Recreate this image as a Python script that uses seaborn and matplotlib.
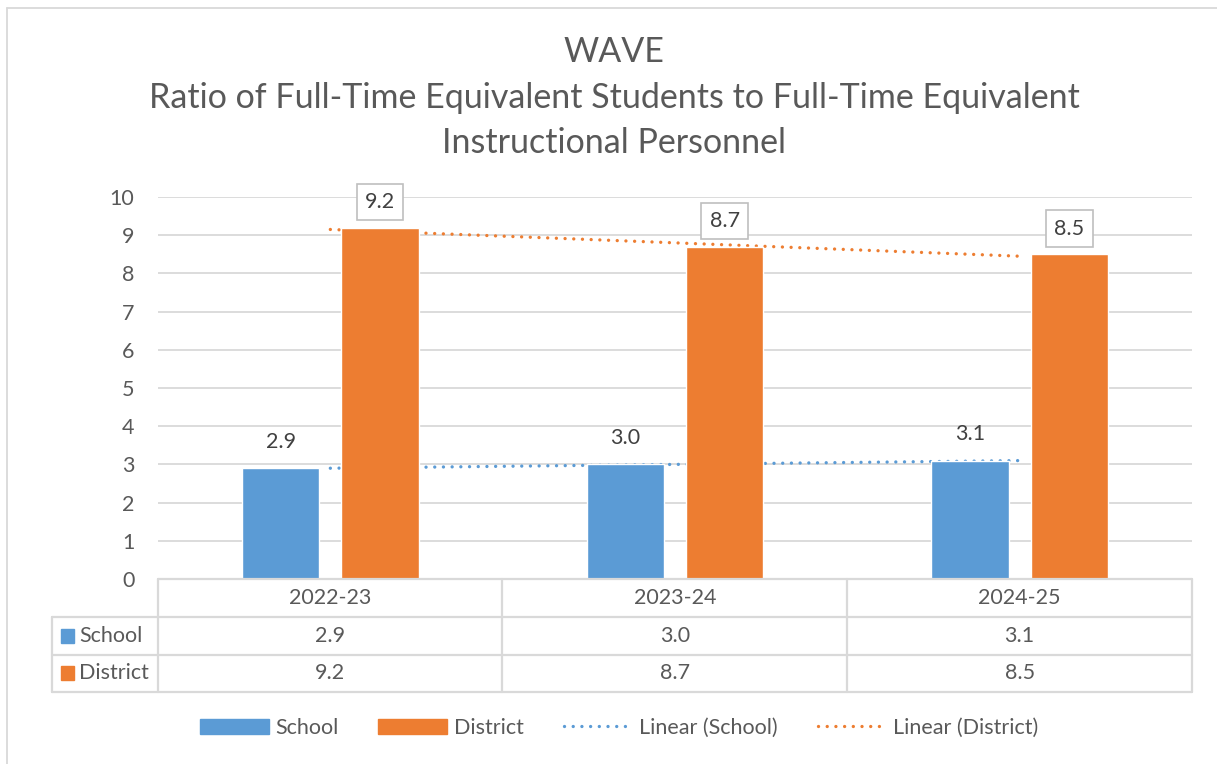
import numpy as np
import pandas as pd
import matplotlib
matplotlib.use("Agg")
import matplotlib.pyplot as plt
import seaborn as sns
from matplotlib.patches import Patch, Rectangle
from matplotlib.lines import Line2D
import matplotlib.transforms as mtransforms

# ---- data ----
years = ["2022-23", "2023-24", "2024-25"]
school = [2.9, 3.0, 3.1]
district = [9.2, 8.7, 8.5]
series_names = ["School", "District"]
title_lines = ["WAVE", "Ratio of Full-Time Equivalent Students to Full-Time Equivalent",
               "Instructional Personnel"]
yticks = list(range(0, 11))

BLUE = "#5B9BD5"
ORANGE = "#ED7D31"
TEXT = "#595959"
GRID = "#D9D9D9"
FS = 15.5

sns.set_theme(style="white")
plt.rcParams["font.family"] = ["Lato", "DejaVu Sans"]

W, H = 1217, 764
fig = plt.figure(figsize=(W / 100, H / 100), dpi=100)

def fx(px):
    return px / W

def fy(py):
    return 1 - py / H

ax_l, ax_r, ax_t, ax_b = 158, 1192, 197, 579
ax = fig.add_axes([fx(ax_l), fy(ax_b), fx(ax_r - ax_l), fy(ax_t) - fy(ax_b)])

df = pd.DataFrame({
    "year": years * 2,
    "series": ["School"] * 3 + ["District"] * 3,
    "value": school + district,
})

sns.barplot(data=df, x="year", y="value", hue="series", hue_order=series_names,
            palette=[BLUE, ORANGE], width=0.576, gap=0.22, ax=ax, legend=False,
            zorder=3, saturation=1)

ax.set_xlim(-0.5, 2.5)
ax.set_ylim(0, 10)
ax.set_yticks(yticks)
ax.set_yticklabels([str(t) for t in yticks], fontsize=FS, color=TEXT)
ax.tick_params(axis="y", length=0, pad=17)
ax.tick_params(axis="x", length=0, labelbottom=False)
ax.set_xlabel("")
ax.set_ylabel("")
for s in ax.spines.values():
    s.set_visible(False)
ax.yaxis.grid(True, color=GRID, linewidth=1.3, zorder=0)
ax.set_axisbelow(True)

# trendlines
DOT = (0, (0.01, 2.6))
xs = np.arange(len(years))
for vals, col in [(school, BLUE), (district, ORANGE)]:
    m, b = np.polyfit(xs, vals, 1)
    ax.plot(xs, m * xs + b, color=col, linewidth=2.4,
            linestyle=DOT, dash_capstyle="round", zorder=2)

# data labels
offs = [-0.144, 0.144]
for i in range(len(years)):
    ax.annotate(f"{school[i]:.1f}", (xs[i] + offs[0], school[i]), xytext=(0, 19),
                textcoords="offset points", ha="center", va="center",
                fontsize=FS, color="#404040")
    ax.annotate(f"{district[i]:.1f}", (xs[i] + offs[1], district[i]), xytext=(0, 18.5),
                textcoords="offset points", ha="center", va="center",
                fontsize=FS, color="#404040",
                bbox=dict(boxstyle="square,pad=0.38", fc="white", ec="#BFBFBF", lw=1.2))

# title
for line, py in zip(title_lines, [52, 98, 143]):
    fig.text(fx(614), fy(py), line, ha="center", va="center",
             fontsize=24.5, color=TEXT)

# data table
lc = GRID
lw = 1.6
rows_y = [579, 617, 655, 692]
col_x = [158, 502, 847, 1192]
fig.add_artist(Line2D([fx(158), fx(1192)], [fy(579)] * 2, color=lc, lw=lw))
for yy in rows_y[1:]:
    fig.add_artist(Line2D([fx(52), fx(1192)], [fy(yy)] * 2, color=lc, lw=lw))
for xx in col_x:
    fig.add_artist(Line2D([fx(xx)] * 2, [fy(579), fy(692)], color=lc, lw=lw))
fig.add_artist(Line2D([fx(52)] * 2, [fy(617), fy(692)], color=lc, lw=lw))

trans = mtransforms.blended_transform_factory(ax.transData, fig.transFigure)
for i, yr in enumerate(years):
    ax.text(xs[i], fy(598), yr, transform=trans, ha="center", va="center",
            fontsize=FS, color=TEXT, clip_on=False)
    ax.text(xs[i], fy(636), f"{school[i]:.1f}", transform=trans, ha="center",
            va="center", fontsize=FS, color=TEXT, clip_on=False)
    ax.text(xs[i], fy(673), f"{district[i]:.1f}", transform=trans, ha="center",
            va="center", fontsize=FS, color=TEXT, clip_on=False)

for name, col, py in [("School", BLUE, 636), ("District", ORANGE, 673)]:
    fig.add_artist(Rectangle((fx(61), fy(py + 7)), fx(13), fy(py - 7) - fy(py + 7),
                             color=col, transform=fig.transFigure))
    fig.text(fx(79), fy(py), name, ha="left", va="center", fontsize=FS, color=TEXT)

# outer frame (top and left)
fig.add_artist(Line2D([fx(7), 1], [fy(8)] * 2, color=GRID, lw=1.3))
fig.add_artist(Line2D([fx(7)] * 2, [fy(8), 0], color=GRID, lw=1.3))

# legend
handles = [
    Patch(color=BLUE, label="School"),
    Patch(color=ORANGE, label="District"),
    Line2D([], [], color=BLUE, lw=2.4, linestyle=DOT,
           dash_capstyle="round", label="Linear (School)"),
    Line2D([], [], color=ORANGE, lw=2.4, linestyle=DOT,
           dash_capstyle="round", label="Linear (District)"),
]
leg = fig.legend(handles=handles, loc="center", bbox_to_anchor=(fx(619), fy(728)),
                 ncol=4, frameon=False, fontsize=FS, handlelength=3.2,
                 handleheight=0.7, columnspacing=1.86, handletextpad=0.3)
for t in leg.get_texts():
    t.set_color(TEXT)

fig.savefig("out.png", dpi=100, facecolor="white")
